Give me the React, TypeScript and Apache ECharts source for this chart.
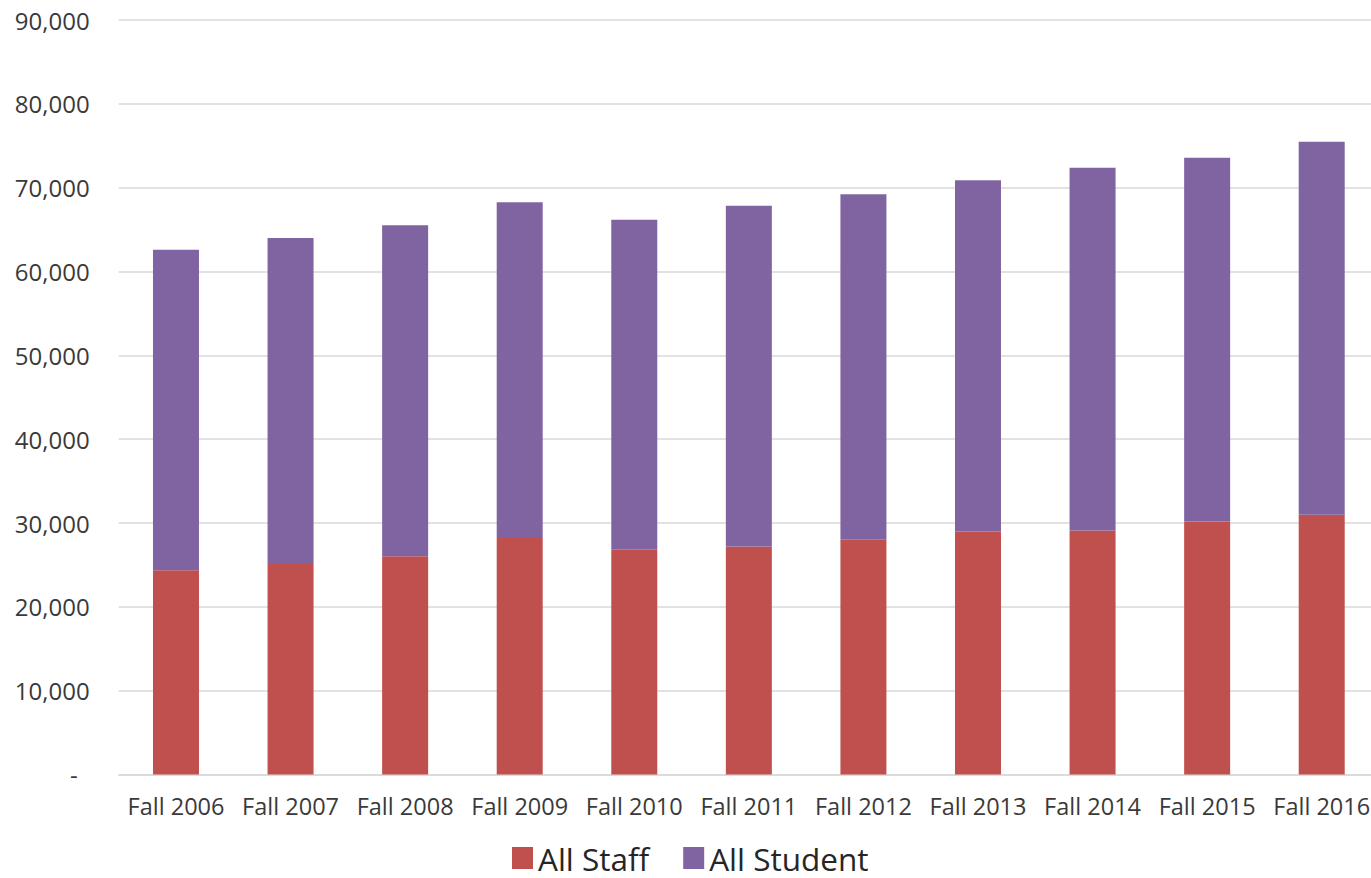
import React, { useEffect, useRef } from "react";
import * as echarts from "echarts";

const categories = [
  "Fall 2006", "Fall 2007", "Fall 2008", "Fall 2009", "Fall 2010", "Fall 2011",
  "Fall 2012", "Fall 2013", "Fall 2014", "Fall 2015", "Fall 2016",
];
const allStaff = [24350, 25230, 26020, 28210, 26820, 27210, 28010, 29000, 29120, 30190, 30990];
const allStudent = [38230, 38780, 39500, 40060, 39340, 40620, 41210, 41890, 43270, 43390, 44500];
const yTicks = { min: 0, max: 90000, interval: 10000 };

const FONT = "'Open Sans', 'DejaVu Sans', sans-serif";

export default function App() {
  const ref = useRef<HTMLDivElement>(null);
  useEffect(() => {
    if (!ref.current) return;
    const chart = echarts.init(ref.current, undefined, { renderer: "svg" });
    chart.setOption({
      animation: false,
      backgroundColor: "#ffffff",
      grid: { left: 118.7, right: 11, top: 20, bottom: 103.5, containLabel: false },
      legend: {
        left: 512,
        top: 842,
        padding: 0,
        itemWidth: 21,
        itemHeight: 22,
        itemGap: 34,
        icon: "rect",
        textStyle: { fontFamily: FONT, fontSize: 31.5, color: "#262626", lineHeight: 30 },
        data: ["All Staff", "All Student"],
      },
      xAxis: {
        type: "category",
        data: categories,
        axisTick: { show: false },
        axisLine: { show: true, lineStyle: { color: "#d9d9d9", width: 1.5 } },
        axisLabel: {
          interval: 0,
          margin: 19,
          fontFamily: FONT,
          fontSize: 23.5,
          color: "#3a3a3a",
        },
      },
      yAxis: {
        type: "value",
        min: yTicks.min,
        max: yTicks.max,
        interval: yTicks.interval,
        axisLine: { show: false },
        axisTick: { show: false },
        splitLine: { show: true, lineStyle: { color: "#d9d9d9", width: 1.5 } },
        axisLabel: {
          margin: 29,
          fontFamily: FONT,
          fontSize: 24,
          color: "#3a3a3a",
          formatter: (v: number) =>
            v === 0 ? "{d|-}" : v.toString().replace(/\B(?=(\d{3})+(?!\d))/g, ","),
          rich: {
            d: { fontFamily: FONT, fontSize: 24, color: "#3a3a3a", padding: [0, 12, 0, 0] },
          },
        },
      },
      series: [
        {
          name: "All Staff",
          type: "bar",
          stack: "total",
          barWidth: 46,
          itemStyle: { color: "#C0504D" },
          data: allStaff,
        },
        {
          name: "All Student",
          type: "bar",
          stack: "total",
          barWidth: 46,
          itemStyle: { color: "#8064A2" },
          data: allStudent,
        },
      ],
    });
    return () => chart.dispose();
  }, []);
  return (
    <div
      style={{
        position: "fixed",
        left: 0,
        top: 0,
        width: 1371,
        height: 878,
        overflow: "hidden",
        background: "#fff",
      }}
    >
      <div ref={ref} style={{ width: 1390, height: 878 }} />
    </div>
  );
}
